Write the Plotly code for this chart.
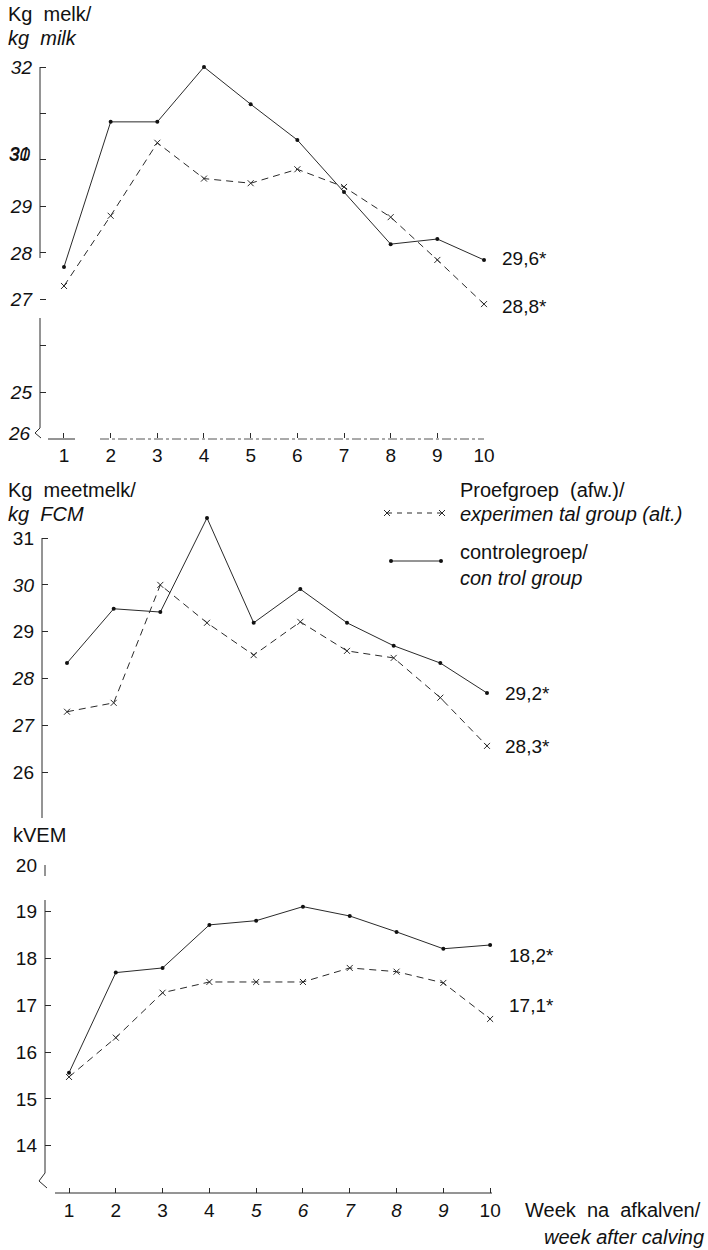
import plotly.graph_objects as go

W, H = 708, 1250
FONT = "Liberation Sans, Arial, sans-serif"
INK = "#111111"
LINE = "#2a2a2a"

# ---- data -------------------------------------------------------------
weeks = list(range(1, 11))

# kg milk per cow per day
milk_control = [27.7, 30.82, 30.82, 32.0, 31.2, 30.43, 29.31, 28.19, 28.30, 27.85]
milk_exp = [27.29, 28.8, 30.37, 29.6, 29.5, 29.8, 29.42, 28.77, 27.85, 26.9]
milk_means = ["29,6*", "28,8*"]

# kg fat-corrected milk
fcm_control = [28.33, 29.49, 29.42, 31.43, 29.19, 29.91, 29.19, 28.70, 28.33, 27.69]
fcm_exp = [27.29, 27.48, 30.0, 29.19, 28.5, 29.21, 28.59, 28.44, 27.59, 26.56]
fcm_means = ["29,2*", "28,3*"]

# feed intake, kVEM
vem_control = [15.56, 17.70, 17.80, 18.72, 18.81, 19.11, 18.91, 18.57, 18.21, 18.29]
vem_exp = [15.47, 16.31, 17.27, 17.5, 17.5, 17.5, 17.8, 17.72, 17.48, 16.71]
vem_means = ["18,2*", "17,1*"]

# tick labels (some printed in italics)
milk_ticks = [25, 26, 27, 28, 29, 30, 31, 32]
milk_ticktext = ["<i>25</i>", "", "<i>27</i>", "<i>28</i>", "<i>29</i>", "", "", "<i>32</i>"]
fcm_ticks = [26, 27, 28, 29, 30, 31]
fcm_ticktext = ["26", "<i>27</i>", "<i>28</i>", "29", "<i>30</i>", "31"]
vem_ticks = [14, 15, 16, 17, 18, 19, 20]
vem_ticktext = [str(v) for v in vem_ticks]
week_ticktext_top = [str(w) for w in weeks]
week_ticktext_bottom = ["1", "2", "3", "4", "<i>5</i>", "<i>6</i>", "<i>7</i>", "<i>8</i>", "<i>9</i>", "10"]


def xdom(left_px, right_px):
    return [left_px / W, right_px / W]


def ydom(top_px, bottom_px):
    return [1 - bottom_px / H, 1 - top_px / H]


fig = go.Figure()


def add_pair(xa, ya, control, exp):
    fig.add_trace(go.Scatter(
        x=weeks, y=exp, xaxis=xa, yaxis=ya, mode="lines+markers",
        line=dict(color=LINE, width=1, dash="7px,5px"),
        marker=dict(symbol="x-thin-open", size=6, line=dict(color=LINE, width=1)),
        cliponaxis=False, showlegend=False, hoverinfo="skip"))
    fig.add_trace(go.Scatter(
        x=weeks, y=control, xaxis=xa, yaxis=ya, mode="lines+markers",
        line=dict(color=LINE, width=1),
        marker=dict(symbol="circle", size=4, color=INK),
        cliponaxis=False, showlegend=False, hoverinfo="skip"))


add_pair("x", "y", milk_control, milk_exp)
add_pair("x2", "y2", fcm_control, fcm_exp)
add_pair("x3", "y3", vem_control, vem_exp)

# legend samples drawn on a pixel overlay
fig.add_trace(go.Scatter(
    x=[387, 442], y=[513, 513], xaxis="x4", yaxis="y4", mode="lines+markers",
    line=dict(color=LINE, width=1, dash="5px,5px"),
    marker=dict(symbol="x-thin-open", size=6, line=dict(color=LINE, width=1)),
    showlegend=False, hoverinfo="skip"))
fig.add_trace(go.Scatter(
    x=[391, 441], y=[561, 561], xaxis="x4", yaxis="y4", mode="lines+markers",
    line=dict(color=LINE, width=1),
    marker=dict(symbol="circle", size=4, color=INK),
    showlegend=False, hoverinfo="skip"))

tickfont = dict(family=FONT, size=19, color=INK)
yax_common = dict(ticks="inside", ticklen=6, tickwidth=1, tickcolor=LINE,
                  showline=False, showgrid=False, zeroline=False,
                  tickfont=tickfont, ticklabelstandoff=7, tickmode="array")
xax_common = dict(ticks="inside", ticklen=5, tickwidth=1, tickcolor=LINE,
                  showline=False, showgrid=False, zeroline=False,
                  tickfont=tickfont, ticklabelstandoff=4, tickmode="array",
                  tickvals=weeks)

fig.update_layout(
    width=W, height=H,
    margin=dict(l=0, r=0, t=0, b=0, autoexpand=False),
    paper_bgcolor="white", plot_bgcolor="rgba(0,0,0,0)",
    font=dict(family=FONT, size=20, color=INK),
    # top panel: kg milk (32 sits at 67 px, 46.5 px per kg)
    xaxis=dict(domain=xdom(40, 484), range=[0.486, 10], anchor="y",
               ticktext=week_ticktext_top, **xax_common),
    yaxis=dict(domain=ydom(57, 438), range=[24.02, 32.215], anchor="x",
               tickvals=milk_ticks, ticktext=milk_ticktext, **yax_common),
    # middle panel: kg FCM (31 sits at 538 px)
    xaxis2=dict(domain=xdom(42, 487), range=[0.464, 10], anchor="y2",
                visible=False),
    yaxis2=dict(domain=ydom(510, 818), range=[25.02, 31.6], anchor="x2",
                tickvals=fcm_ticks, ticktext=fcm_ticktext, **yax_common),
    # bottom panel: kVEM
    xaxis3=dict(domain=xdom(45, 492), range=[0.487, 10.04], anchor="y3",
                ticktext=week_ticktext_bottom, **xax_common),
    yaxis3=dict(domain=ydom(865, 1193), range=[12.99, 20], anchor="x3",
                tickvals=vem_ticks, ticktext=vem_ticktext, **yax_common),
    # pixel overlay for axis lines, breaks and text
    xaxis4=dict(domain=[0, 1], range=[0, W], visible=False, anchor="y4"),
    yaxis4=dict(domain=[0, 1], range=[H, 0], visible=False, anchor="x4"),
)


# axis lines with breaks
def seg(x0, y0, x1, y1, dash=None, color=LINE, width=1):
    line = dict(color=color, width=width)
    if dash:
        line["dash"] = dash
    fig.add_shape(type="line", xref="x4", yref="y4", x0=x0, y0=y0, x1=x1, y1=y1, line=line)


def path(points, color=LINE):
    d = "M " + " L ".join(f"{x},{y}" for x, y in points)
    fig.add_shape(type="path", xref="x4", yref="y4", path=d, line=dict(color=color, width=1))


# top panel axes
seg(40, 67, 40, 258)
seg(40, 318, 40, 428)
path([(40, 428), (35, 433), (41, 438)])
seg(48, 439, 75, 439)
seg(100, 439, 484, 439, dash="9px,3px,3px,3px", color="#555555")

# middle panel axis
seg(42, 538, 42, 818)

# bottom panel axes
seg(45, 865, 45, 876)
seg(45, 900, 45, 1173)
path([(45, 1173), (39, 1181), (47, 1188)])
seg(55, 1193, 492, 1193)


# text
def text(x, y, s, anchor="left", size=20):
    fig.add_annotation(xref="x4", yref="y4", x=x, y=y, text=s, showarrow=False,
                       xanchor=anchor, yanchor="middle",
                       font=dict(family=FONT, size=size, color=INK))


text(6, 14, "Kg  melk/")
text(6, 38, "<i>kg  milk</i>")
text(6, 490, "Kg  meetmelk/")
text(6, 514, "<i>kg  FCM</i>")
text(11, 835, "kVEM")
text(523, 1210, "Week  na  afkalven/")
text(706, 1237, "<i>week after calving</i>", anchor="right")

# overprinted "31"/"30" label on the milk axis, and the "26" at the break
text(33, 154, "<i>30</i>", anchor="right", size=19)
text(32, 153, "<i>31</i>", anchor="right", size=19)
text(33, 433, "<i>26</i>", anchor="right", size=19)

# legend
text(458, 490, "Proefgroep  (afw.)/")
text(458, 514, "<i>experimen tal group (alt.)</i>")
text(458, 552, "controlegroep/")
text(458, 578, "<i>con trol group</i>")

# period means next to the curves
text(500, 258, milk_means[0], size=19)
text(500, 306, milk_means[1], size=19)
text(503, 693, fcm_means[0], size=19)
text(503, 746, fcm_means[1], size=19)
text(507, 955, vem_means[0], size=19)
text(507, 1005, vem_means[1], size=19)

fig.write_html("out.html")
